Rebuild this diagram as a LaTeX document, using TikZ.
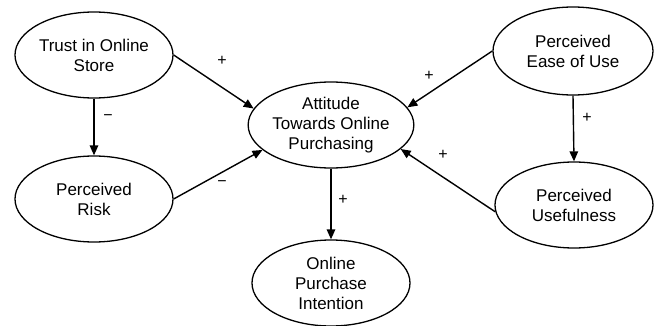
\documentclass[tikz,border=0pt]{standalone}
\usepackage{fontspec}
\setmainfont{Liberation Sans}
\usetikzlibrary{shapes.geometric,arrows.meta}
\begin{document}
\begin{tikzpicture}[x=1pt,y=-1pt,
  construct/.style={draw=black,line width=1.3pt,ellipse,inner sep=0pt,
    minimum width=158pt,minimum height=86pt,align=center,
    font=\fontsize{17}{20}\selectfont},
  link/.style={line width=1.4pt,-{Triangle[length=10pt,width=8.5pt]}},
  sign/.style={inner sep=0pt,font=\fontsize{16}{18}\selectfont}]
\useasboundingbox (0,0) rectangle (657,326);
\node[construct] (trust) at (94,55) {Trust in Online\\Store};
\node[construct] (risk) at (94,199) {Perceived\\Risk};
\node[construct] (att) at (331,125) {Attitude\\Towards Online\\Purchasing};
\node[construct] (opi) at (331,283) {Online\\Purchase\\Intention};
\node[construct,minimum width=160pt,minimum height=88pt] (ease) at (573,51) {Perceived\\Ease of Use};
\node[construct] (use) at (574,205) {Perceived\\Usefulness};
\draw[link] (trust.east) -- (att.168);
\draw[link] (trust.south) -- (risk.north);
\draw[link] (risk.east) -- (att.200);
\draw[link] (ease.west) -- (att.13);
\draw[link] (ease.south) -- (use.north);
\draw[link] (use.185) -- (att.341);
\draw[link] (att.south) -- (opi.north);
\node[sign] (s1) at (222,61) {+};
\node[sign] (s2) at (108,118) {−};
\node[sign] (s3) at (222,184) {−};
\node[sign] (s4) at (429,76) {+};
\node[sign] (s5) at (587,118) {+};
\node[sign] (s6) at (443,155) {+};
\node[sign] (s7) at (343,200) {+};
\end{tikzpicture}
\end{document}
